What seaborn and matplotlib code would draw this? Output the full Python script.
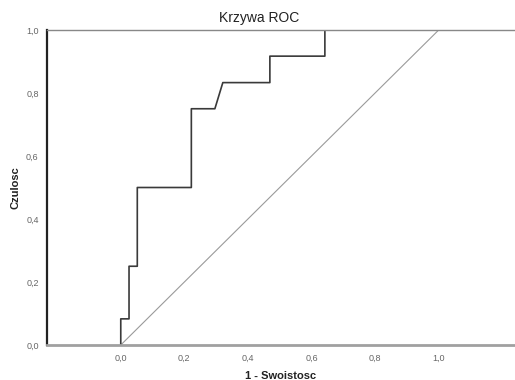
import matplotlib
matplotlib.use("Agg")
import matplotlib.pyplot as plt
import seaborn as sns
import pandas as pd

# ROC curve
fpr = [0.0, 0.0, 0.026, 0.026, 0.052, 0.052, 0.222, 0.222, 0.296, 0.321,
       0.469, 0.469, 0.642, 0.642, 1.0]
tpr = [0.0, 0.083, 0.083, 0.25, 0.25, 0.5, 0.5, 0.75, 0.75, 0.833,
       0.833, 0.917, 0.917, 1.0, 1.0]
ref_x = [0.0, 1.0]
ref_y = [0.0, 1.0]
ticks = [0.0, 0.2, 0.4, 0.6, 0.8, 1.0]
tick_labels = ['0,0', '0,2', '0,4', '0,6', '0,8', '1,0']

roc = pd.DataFrame({'fpr': fpr, 'tpr': tpr})
diag = pd.DataFrame({'x': ref_x, 'y': ref_y})

sns.set_style('white')
plt.rcParams['font.family'] = ['Liberation Sans', 'DejaVu Sans']

fig = plt.figure(figsize=(5.15, 3.8), dpi=100)
ax = fig.add_axes([47/515, 35/380, 468/515, 315/380])

sns.lineplot(data=diag, x='x', y='y', sort=False, estimator=None,
             color='#9a9a9a', linewidth=0.8, ax=ax)
sns.lineplot(data=roc, x='fpr', y='tpr', sort=False, estimator=None,
             color='#3a3a3a', linewidth=1.2, ax=ax)

ax.set_xlim(-0.232, 1.24)
ax.set_ylim(0, 1)
ax.set_xticks(ticks)
ax.set_xticklabels(tick_labels)
ax.set_yticks(ticks)
ax.set_yticklabels(tick_labels)
ax.tick_params(axis='both', labelsize=6.5, labelcolor='#666666', length=3,
               width=0.6, color='#777777', pad=3)

ax.spines['left'].set_color('#222222')
ax.spines['left'].set_linewidth(1.6)
ax.spines['bottom'].set_color('#a0a0a0')
ax.spines['bottom'].set_linewidth(2.0)
ax.spines['top'].set_color('#888888')
ax.spines['top'].set_linewidth(1.0)
ax.spines['right'].set_visible(False)

# title is centred on the figure, not on the axes
fig.text(0.503, 1 - 18/380, 'Krzywa ROC', fontsize=10, color='#222222',
         ha='center', va='center')
ax.set_xlabel('1 - Swoistosc', fontsize=8, fontweight='bold', color='#222222', labelpad=6)
ax.set_ylabel('Czulosc', fontsize=8, fontweight='bold', color='#222222', labelpad=4)

fig.savefig('out.png', dpi=100)
